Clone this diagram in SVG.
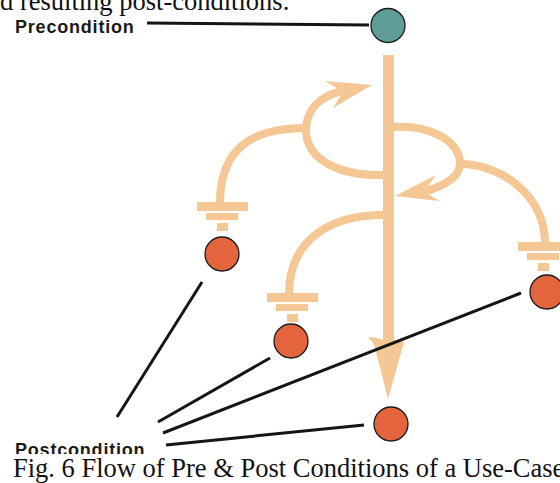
<svg xmlns="http://www.w3.org/2000/svg" width="560" height="483" viewBox="0 0 560 483">
  <style>
    .serif { font-family: "Liberation Serif", "Times New Roman", serif; font-size: 26.5px; fill: #111; }
    .label { font-family: "Liberation Sans", Arial, sans-serif; font-weight: bold; font-size: 18px; letter-spacing: 0.8px; fill: #1a1a1a; }
    .lead { stroke: #151515; stroke-width: 3; fill: none; stroke-linecap: butt; }
    .flow { stroke: #f4c794; stroke-width: 8; fill: none; }
    .peach { fill: #f4c794; }
    .start { fill: #5f9e98; stroke: #1a1a1a; stroke-width: 1.3; }
    .end { fill: #e4643d; stroke: #1a1a1a; stroke-width: 1.3; }
  </style>
  <defs>
    <!-- terminator symbol: three stacked bars above a result node -->
    <g id="stopper">
      <rect x="-25.5" y="0" width="51" height="9" class="peach"/>
      <rect x="-16.5" y="11" width="32" height="7" class="peach"/>
      <rect x="-5.5" y="21" width="11" height="8" class="peach"/>
    </g>
    <!-- lower edge of the label row is hidden under the caption strip -->
    <clipPath id="above-caption">
      <rect x="0" y="0" width="560" height="454"/>
    </clipPath>
  </defs>

  <rect width="560" height="483" fill="#fff"/>

  <!-- surrounding body text -->
  <text class="serif" x="0" y="10">d resulting post-conditions.</text>

  <g id="connectors">
    <!-- main flow bar with arrowhead -->
    <rect x="383" y="55" width="11" height="286" class="peach"/>
    <path class="peach" d="M383,336 L383,340 Q373,336 368,338 Q374,342 375,348 L388,399 L404,342 L394,340 L394,336 Z"/>

    <!-- left loop returning to the bar -->
    <path class="flow" d="M383,175 C340,176 306,160 306,130 C306,108 322,96 342,91"/>
    <path class="peach" d="M325,81 L372,85 L333,108 L343,92 Z"/>
    <!-- branch to the first postcondition -->
    <path class="flow" d="M220,203 C220,150 250,128 306,128"/>

    <!-- right loop returning to the bar -->
    <path class="flow" d="M393,127 C430,125 458,140 460,162 C461,176 446,186 420,193"/>
    <path class="peach" d="M436,175 L395,196 L440,201 L424,192 Z"/>
    <!-- branch to the third postcondition -->
    <path class="flow" d="M458,164 C500,163 545,195 545,243"/>

    <!-- branch to the second postcondition -->
    <path class="flow" d="M383,215 C330,215 289,240 289,294"/>

    <!-- leader lines -->
    <path class="lead" d="M147,23 L369,25"/>
    <path class="lead" d="M202,282 L117,417"/>
    <path class="lead" d="M270,358 L158,422"/>
    <path class="lead" d="M521,293 L163,433"/>
    <path class="lead" d="M364,425 L166,445" stroke-width="3.5"/>
  </g>

  <g id="precondition">
    <circle cx="388" cy="25.5" r="17" class="start"/>
    <text class="label" x="15" y="33">Precondition</text>
  </g>

  <g id="post-1">
    <use href="#stopper" x="222.5" y="202"/>
    <circle cx="222" cy="254" r="17" class="end"/>
  </g>

  <g id="post-2">
    <use href="#stopper" x="292.5" y="293"/>
    <circle cx="291" cy="341" r="17" class="end"/>
  </g>

  <g id="post-3">
    <use href="#stopper" x="543.5" y="242"/>
    <circle cx="547" cy="292" r="17" class="end"/>
  </g>

  <g id="post-4">
    <circle cx="391" cy="424" r="17" class="end"/>
  </g>

  <g id="postcondition" clip-path="url(#above-caption)">
    <text class="label" x="15" y="456">Postcondition</text>
  </g>

  <!-- caption -->
  <text class="serif" x="13" y="477">Fig. 6 Flow of Pre &amp; Post Conditions of a Use-Case</text>
</svg>
